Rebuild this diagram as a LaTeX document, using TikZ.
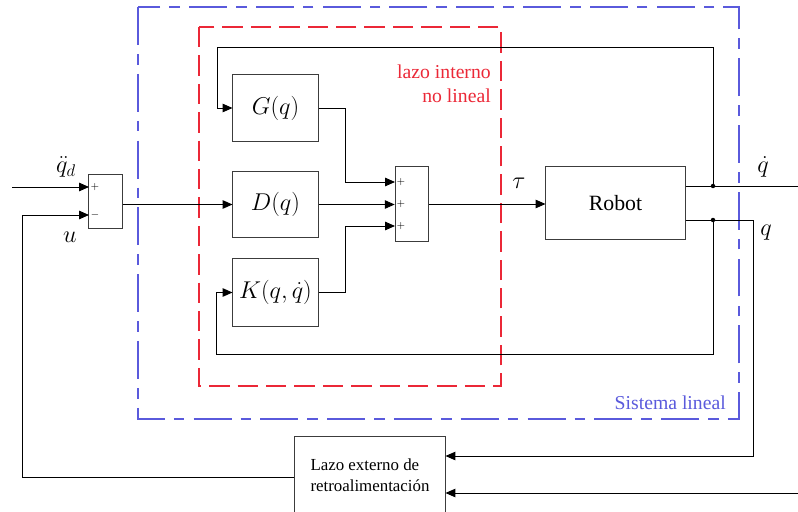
\documentclass[tikz,border=0pt]{standalone}
\usepackage{amsmath}
\usepackage{fontspec}
\setmainfont{Liberation Serif}
\usetikzlibrary{arrows.meta}
\definecolor{linblue}{RGB}{90,90,220}
\definecolor{nlred}{RGB}{235,40,55}
\definecolor{wire}{RGB}{60,60,60}

\begin{document}
\begin{tikzpicture}[
  x=0.025cm, y=-0.025cm,
  blk/.style={draw=wire, line width=0.7pt, inner sep=0pt, minimum width=2.125cm, minimum height=1.65cm, font=\fontsize{17}{20}\selectfont},
  sumbox/.style={draw=wire, line width=0.7pt, inner sep=0pt, minimum width=0.84cm},
  sgn/.style={inner sep=0pt, font=\fontsize{7}{8}\selectfont},
  sig/.style={line width=0.7pt, -{Triangle[length=7pt,width=6pt]}},
  wirel/.style={line width=0.7pt},
  lbl/.style={inner sep=0pt, font=\fontsize{17}{20}\selectfont},
  scale=1
]
\useasboundingbox (0,0) rectangle (798,512);

% Outer and inner loops
\draw[linblue, line width=0.8pt, dash pattern=on 27pt off 6.5pt on 7.5pt off 6.5pt] (138,7) rectangle (739,419);
\draw[nlred, line width=0.8pt, dash pattern=on 14.5pt off 5.7pt] (199,27) rectangle (501,386);
\node[nlred, anchor=east, align=right, inner sep=0pt, font=\fontsize{14}{17}\selectfont] (lint) at (491,84) {lazo interno\\no lineal};
\node[linblue, anchor=east, inner sep=0pt, font=\fontsize{14}{17}\selectfont] (slin) at (726,403) {Sistema lineal};

% Blocks
\node[sumbox, minimum height=1.35cm] (sum1) at (105.5,201) {};
\node[blk] (G) at (275.5,108) {$G(q)$};
\node[blk, minimum height=1.625cm] (D) at (275.5,204.5) {$D(q)$};
\node[blk, minimum height=1.675cm, font=\fontsize{16.5}{20}\selectfont] (K) at (275.5,292.5) {$K(q,\dot{q})$};
\node[sumbox, minimum height=1.85cm] (sum2) at (412,204) {};
\node[draw=wire, line width=0.7pt, minimum width=3.475cm, minimum height=1.8cm, font=\fontsize{15.5}{18}\selectfont] (robot) at (615.5,203) {Robot\hspace{7pt}};
\node[draw=wire, line width=0.7pt, minimum width=3.75cm, minimum height=1.925cm, align=left, font=\fontsize{12}{15}\selectfont] (lazo) at (370,475.5) {Lazo externo de\\retroalimentación};

% Signs
\node[sgn] (p1) at (95,187) {$+$};
\node[sgn] (m1) at (95,215) {$-$};
\node[sgn] (p2) at (401,182) {$+$};
\node[sgn] (p3) at (401,204) {$+$};
\node[sgn] (p4) at (401,226) {$+$};

% Ports and corners
\coordinate (qin) at (12,187);
\coordinate (s1a) at (89,187);
\coordinate (s1b) at (89,215);
\coordinate (ucorner) at (22,477);
\coordinate (s2a) at (395,182);
\coordinate (s2c) at (395,226);
\coordinate (j1) at (713,186);
\coordinate (j2) at (713,220);
\coordinate (dqout) at (798,186);
\coordinate (qturn) at (753,456);
\coordinate (topl) at (217,47);
\coordinate (botl) at (216,354);
\coordinate (qin2) at (798,493);

% Signals
\draw[sig] (qin) -- (s1a);
\draw[sig] (lazo.west |- ucorner) -- (ucorner) |- (s1b);
\draw[sig] (sum1.east |- D.west) -- (D.west);
\draw[sig] (G.east) -- ++(27,0) |- (s2a);
\draw[sig] (D.east) -- (sum2.west |- D.east);
\draw[sig] (K.east) -- ++(27,0) |- (s2c);
\draw[sig] (sum2.east) -- (robot.west |- sum2.east);
\draw[wirel] (robot.east |- j1) -- (dqout);
\draw[sig] (robot.east |- j2) -| (qturn) -- (lazo.east |- qturn);
\draw[sig] (j1) |- (topl) |- (G.west);
\draw[sig] (j2) |- (botl) |- (K.west);
\draw[sig] (qin2) -- (lazo.east |- qin2);
\fill (j1) circle (1.6pt);
\fill (j2) circle (1.6pt);

% Signal names
\node[lbl] (lqdd) at (66,167) {$\ddot{q}_d$};
\node[lbl] (lu) at (70,237) {$u$};
\node[lbl] (ltau) at (519,183) {$\tau$};
\node[lbl] (ldq) at (763,167) {$\dot{q}$};
\node[lbl] (lq) at (766,233) {$q$};
\end{tikzpicture}
\end{document}
